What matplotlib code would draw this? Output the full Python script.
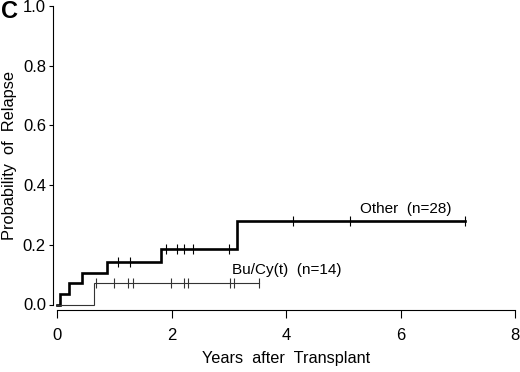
import matplotlib
matplotlib.use("Agg")
import matplotlib.pyplot as plt
import numpy as np

plt.rcParams['font.family'] = ['Liberation Sans', 'DejaVu Sans']

# Kaplan-Meier style cumulative relapse curves
other_times = [0.0, 0.05, 0.21, 0.43, 0.88, 1.81, 3.14]
other_probs = [0.0, 0.036, 0.071, 0.107, 0.143, 0.185, 0.280]
other_censor = [1.07, 1.28, 1.91, 2.09, 2.21, 2.38, 3.00, 4.13, 5.11, 7.13]
other_end = 7.13

bucy_times = [0.0, 0.64]
bucy_probs = [0.0, 0.072]
bucy_censor = [0.68, 1.00, 1.24, 1.33, 1.99, 2.21, 2.29, 3.02, 3.09, 3.53]
bucy_end = 3.53

x_ticks = [0, 2, 4, 6, 8]
y_ticks = [0.0, 0.2, 0.4, 0.6, 0.8, 1.0]


def step_value(times, probs, t):
    idx = np.searchsorted(times, t, side='right') - 1
    return np.array(probs)[idx]


fig = plt.figure(figsize=(5.2, 3.72), dpi=100)
ax = fig.add_axes([57 / 520, 67.5 / 372, 458 / 520, 298.5 / 372])

for times, probs, cens, end, lw, col in [
    (other_times, other_probs, other_censor, other_end, 1.9, 'black'),
    (bucy_times, bucy_probs, bucy_censor, bucy_end, 0.8, '#333333'),
]:
    xs = list(times) + [end]
    ys = list(probs) + [probs[-1]]
    ax.plot(xs, ys, drawstyle='steps-post', color=col, lw=lw,
            solid_joinstyle='miter', clip_on=False)
    cy = step_value(times, probs, np.array(cens))
    ax.plot(cens, cy, linestyle='none', marker='|', markersize=7,
            markeredgewidth=0.8, color=col, clip_on=False)

ax.text(6.1, 0.32, 'Other  (n=28)', ha='center', va='center', fontsize=11)
ax.text(4.02, 0.115, 'Bu/Cy(t)  (n=14)', ha='center', va='center', fontsize=11)

ax.set_xlim(0, 8)
ax.set_ylim(0, 1.0)
ax.set_xticks(x_ticks)
ax.set_xticklabels([str(v) for v in x_ticks])
ax.set_yticks(y_ticks)
ax.set_yticklabels([f'{v:.1f}' for v in y_ticks])

ax.spines['top'].set_visible(False)
ax.spines['right'].set_visible(False)
ax.spines['left'].set_position(('outward', 3))
ax.spines['bottom'].set_position(('outward', 4))
ax.spines['left'].set_linewidth(0.8)
ax.spines['bottom'].set_linewidth(0.8)
ax.tick_params(axis='x', length=6, width=0.8, labelsize=12, pad=7)
ax.tick_params(axis='y', length=3, width=0.8, labelsize=12, pad=2)

ax.set_xlabel('Years  after  Transplant', fontsize=11.7, labelpad=6)
ax.set_ylabel('Probability  of  Relapse', fontsize=11.8, labelpad=4)

fig.text(1 / 520, 1 - 12 / 372, 'C', fontsize=17, fontweight='bold',
         ha='left', va='center')

fig.savefig('out.png', dpi=100)
